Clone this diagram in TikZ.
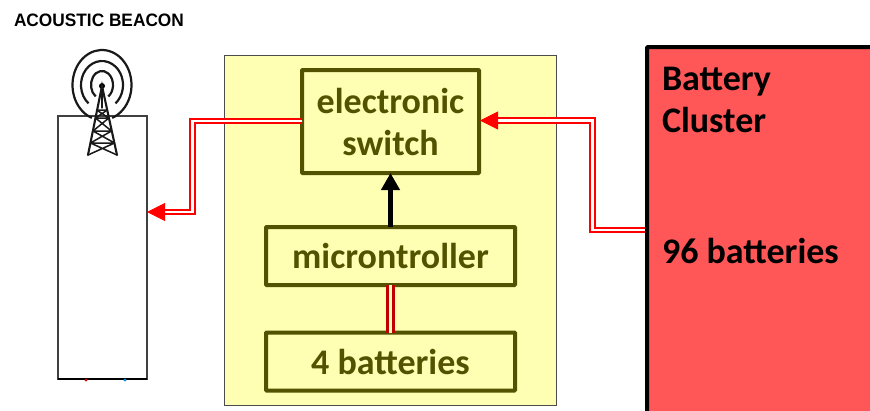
\documentclass[tikz,border=0pt]{standalone}
\usepackage{fontspec}
\setmainfont{Carlito}
\newfontfamily\headfont{Liberation Sans}
\usetikzlibrary{arrows.meta,calc}
\definecolor{boxedge}{HTML}{525200}
\definecolor{panel}{HTML}{FFFFB3}
\definecolor{clusterred}{HTML}{FF5757}
\definecolor{linkred}{HTML}{FF0000}
\definecolor{darkred}{HTML}{C00000}
\tikzset{
  every node/.style={outer sep=0pt},
  blockbox/.style={draw=boxedge,line width=4pt,fill=panel,text=boxedge,font=\fontsize{36}{42}\selectfont\bfseries,align=center,inner sep=0pt,rounded corners=0.6pt,anchor=north west},
  cabletwin/.style={draw=linkred,line width=1.8pt,double=white,double distance=2.6pt,line join=miter},
  cabledark/.style={draw=darkred,line width=2.6pt,double=panel,double distance=3.4pt},
  headtip/.style={-{Triangle[length=18pt,width=18pt]},draw=linkred,fill=linkred,line width=1pt},
  clustertext/.style={font=\fontsize{36}{42}\selectfont\bfseries,anchor=base west,inner sep=0pt,text=black},
  towerline/.style={draw=black!90,line width=2.1pt,line cap=round},
  waveline/.style={draw=black!90,line width=2.2pt,line cap=butt},
}
\begin{document}
\begin{tikzpicture}[x=1pt,y=-1pt]
\useasboundingbox (0,0) rectangle (870,410);
\clip (0,0) rectangle (870,410);
\fill[white] (0,0) rectangle (870,410);

% yellow panel
\node[draw=black!70,line width=0.9pt,fill=panel,minimum width=332pt,minimum height=350pt,inner sep=0pt,anchor=north west] (panelbox) at (224,55) {};

% battery cluster
\node[draw=black,line width=4pt,fill=clusterred,minimum width=240pt,minimum height=390pt,inner sep=0pt,anchor=north west,rounded corners=1pt] (cluster) at (647,47) {};
\node[clustertext] (clusterA) at (662,90) {Battery};
\node[clustertext] (clusterB) at (662,132) {Cluster};
\node[clustertext] (clusterC) at (662,263) {96 batteries};

% inner blocks
\node[blockbox,minimum width=177pt,minimum height=103pt] (switchbox) at (302,70) {electronic\\switch};
\node[blockbox,minimum width=249pt,minimum height=58pt,text depth=0pt,text height=25pt,inner ysep=0pt] (microbox) at (266,227) {microntroller};
\node[blockbox,minimum width=249pt,minimum height=58pt] (battbox) at (266,332.5) {4 batteries};

% beacon
\node[font=\headfont\bfseries\fontsize{18}{20}\selectfont,text=black,anchor=base west,inner sep=0pt,xscale=0.96] (title) at (14,26) {ACOUSTIC BEACON};
\node[draw=black!75,line width=2pt,minimum width=89pt,minimum height=263pt,inner sep=0pt,anchor=north west,fill=white] (beacon) at (58,116) {};
\draw[line width=2pt,draw=black] (beacon.south west) -- (beacon.south east);
\fill[red!85!black] (86,380) circle (1.7pt);
\fill[cyan!70!blue] (125,380) circle (1.7pt);

% radio waves
\coordinate (wavecentre) at (102,85);
\draw[waveline] (wavecentre) ++(110:29.5 and 35) arc[start angle=110,end angle=430,x radius=29.5,y radius=35];
\draw[waveline] (wavecentre) ++(130:21 and 24) arc[start angle=130,end angle=410,x radius=21,y radius=24];
\draw[waveline] (wavecentre) ++(125:11 and 14) arc[start angle=125,end angle=415,x radius=11,y radius=14];
% tower
\fill[black] (102,86) circle (3pt);
\draw[towerline] (88,155) -- (102,86) -- (117,155);
\draw[towerline,line width=1.2pt] (102,86) -- (102,108);
\draw[towerline,line width=1.5pt]
  (96.7,110) -- (107.3,110) (95.5,118) -- (108.8,118) (93,131) -- (111.5,131) (90.5,143) -- (114.5,143)
  (96.7,110) -- (108.8,118) (107.3,110) -- (95.5,118)
  (95.5,118) -- (111.5,131) (108.8,118) -- (93,131)
  (93,131) -- (114.5,143) (111.5,131) -- (90.5,143)
  (90.5,143) -- (117,155) (114.5,143) -- (88,155);

% connectors
\coordinate (beaconport) at (147,212);
\coordinate (beaconstub) at (163,212);
\coordinate (switchport) at (480,120.5);
\coordinate (switchstub) at (496,120.5);
\coordinate (clusterport) at (645,230);
\draw[cabletwin] (switchbox.west |- 0,121) -- (192.5,121) -- (192.5,212) -- (beaconstub);
\draw[headtip] (beaconstub) -- (beaconport);
\draw[cabletwin] (clusterport) -- (592.5,230) -- (592.5,120.5) -- (switchstub);
\draw[headtip] (switchstub) -- (switchport);
\draw[draw=black,fill=black,line width=5.5pt,arrows={-{Triangle[length=17pt,width=18pt]}}] (microbox.north) -- (switchbox.south);
\draw[cabledark] (microbox.south) -- (battbox.north);
\end{tikzpicture}
\end{document}
